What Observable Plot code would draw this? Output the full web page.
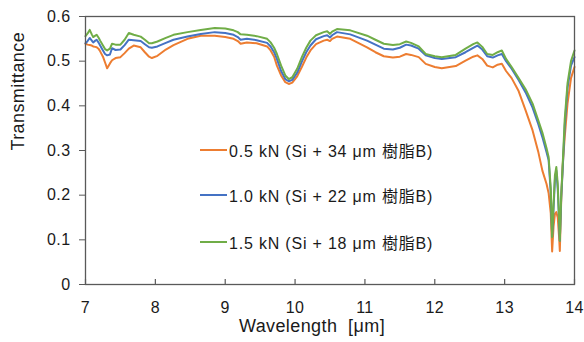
<!DOCTYPE html>
<html><head><meta charset="utf-8">
<script src="https://cdn.jsdelivr.net/npm/d3@7"></script>
<script src="https://cdn.jsdelivr.net/npm/@observablehq/plot@0.6"></script>
<style>
body{margin:0;background:#fff;font-family:"Liberation Sans",Arial,sans-serif;}
#wrap{position:relative;width:584px;height:342px;}
.lg{position:absolute;left:200px;height:20px;display:flex;align-items:center;font-size:16px;letter-spacing:0.8px;color:#1a1a1a;white-space:pre;font-family:"Liberation Sans","Noto Sans CJK JP",sans-serif;}
.sw{width:27px;height:2px;margin-right:2px;}
svg text{letter-spacing:0.4px;}
</style></head><body><div id="wrap"></div>
<script>
const wavelength = [
7.00,7.03,7.06,7.09,7.11,7.14,7.16,7.19,7.21,7.25,
7.28,7.31,7.35,7.38,7.43,7.50,7.56,7.62,7.69,7.79,
7.85,7.91,7.95,8.03,8.15,8.26,8.46,8.65,8.85,9.00,
9.12,9.18,9.22,9.31,9.45,9.60,9.65,9.70,9.74,9.80,
9.86,9.91,9.96,10.03,10.10,10.16,10.22,10.30,10.41,10.46,
10.50,10.53,10.60,10.79,11.03,11.15,11.27,11.40,11.50,11.59,
11.66,11.77,11.87,12.00,12.10,12.30,12.44,12.55,12.61,12.68,
12.75,12.83,12.90,12.96,13.02,13.10,13.20,13.30,13.40,13.48,
13.54,13.60,13.63,13.66,13.68,13.70,13.72,13.74,13.76,13.78,
13.79,13.81,13.83,13.86,13.90,13.95,14.00];
const t05kN = [
.539,.537,.536,.535,.533,.532,.531,.527,.522,.510,
.497,.484,.495,.502,.507,.509,.518,.528,.535,.531,
.520,.510,.507,.512,.526,.536,.550,.557,.557,.554,
.550,.545,.539,.542,.540,.533,.524,.510,.490,.468,
.453,.449,.452,.466,.488,.508,.524,.538,.546,.548,
.545,.550,.555,.550,.531,.520,.511,.508,.510,.516,
.514,.509,.494,.487,.484,.489,.501,.510,.513,.505,
.490,.486,.492,.494,.478,.462,.433,.390,.345,.298,
.255,.225,.204,.160,.074,.130,.158,.162,.150,.105,
.075,.190,.265,.330,.405,.462,.487];
const t10kN = [
.540,.545,.552,.546,.542,.546,.548,.541,.535,.524,
.516,.513,.515,.529,.525,.526,.536,.548,.547,.545,
.538,.531,.530,.533,.541,.548,.555,.561,.565,.563,
.559,.554,.548,.550,.547,.541,.533,.520,.505,.478,
.460,.455,.458,.474,.500,.520,.535,.549,.556,.558,
.553,.558,.565,.560,.546,.537,.528,.526,.530,.537,
.535,.528,.513,.507,.505,.509,.520,.530,.535,.526,
.511,.508,.513,.516,.500,.483,.458,.430,.396,.360,
.330,.296,.278,.205,.108,.170,.235,.255,.215,.140,
.098,.195,.255,.355,.440,.490,.509];
const t15kN = [
.556,.562,.570,.560,.554,.557,.559,.552,.546,.535,
.527,.524,.528,.539,.537,.537,.548,.563,.559,.555,
.548,.540,.540,.544,.552,.559,.565,.570,.574,.573,
.569,.565,.560,.559,.556,.550,.542,.530,.516,.490,
.468,.460,.464,.483,.510,.530,.546,.558,.565,.567,
.561,.566,.572,.569,.557,.548,.539,.536,.538,.544,
.541,.533,.516,.511,.509,.514,.528,.538,.542,.532,
.516,.514,.520,.524,.505,.487,.462,.437,.405,.368,
.340,.305,.285,.215,.106,.180,.245,.263,.225,.145,
.098,.200,.265,.370,.450,.500,.524];
const seriesNames = ["0.5 kN (Si + 34 μm 樹脂B)","1.0 kN (Si + 22 μm 樹脂B)","1.5 kN (Si + 18 μm 樹脂B)"];
const seriesColors = ["#ED7D31","#4472C4","#70AD47"];
const xTicks = [7,8,9,10,11,12,13,14];
const yTicks = [0,0.1,0.2,0.3,0.4,0.5,0.6];
const xLabel = "Wavelength\u00a0\u00a0[μm]";
const yLabel = "Transmittance";

const rows = [];
[t05kN,t10kN,t15kN].forEach((arr,i)=>arr.forEach((v,j)=>rows.push({w:wavelength[j],t:v,s:seriesNames[i]})));

const chart = Plot.plot({
  width:584, height:342,
  marginLeft:85, marginRight:10, marginTop:16, marginBottom:58,
  style:{fontFamily:"'Liberation Sans', Arial, sans-serif", fontSize:"16px", color:"#1a1a1a", background:"#fff"},
  x:{domain:[7,14]},
  y:{domain:[0,0.6]},
  color:{domain:seriesNames, range:seriesColors},
  marks:[
    Plot.line(rows,{x:"w",y:"t",z:"s",stroke:"s",strokeWidth:2}),
    Plot.frame({stroke:"#595959",strokeWidth:1.3}),
    Plot.axisY(yTicks,{tickSize:6,tickPadding:9,stroke:"#595959",tickFormat:d=>d===0?"0":d.toFixed(1),label:null}),
    Plot.axisX(xTicks,{tickSize:0,tickPadding:17,tickFormat:d=>String(d),label:null}),
    Plot.tickX(xTicks,{x:d=>d,insetTop:263,stroke:"#595959",strokeWidth:1.2}),
    Plot.text([yLabel],{text:d=>d,frameAnchor:"left",dx:-67,rotate:-90,fontSize:18,fill:"#1a1a1a"}),
    Plot.text([xLabel],{text:d=>d,frameAnchor:"bottom",dx:-18,dy:47,fontSize:18,fill:"#1a1a1a"})
  ]
});
const wrap = document.getElementById("wrap");
wrap.appendChild(chart);
const legendY = [150,195,242];
seriesNames.forEach((n,i)=>{
  const d=document.createElement("div");
  d.className="lg";
  d.style.top=(legendY[i]-10)+"px";
  d.innerHTML=`<span class="sw" style="background:${seriesColors[i]}"></span><span>${n}</span>`;
  wrap.appendChild(d);
});
</script></body></html>
